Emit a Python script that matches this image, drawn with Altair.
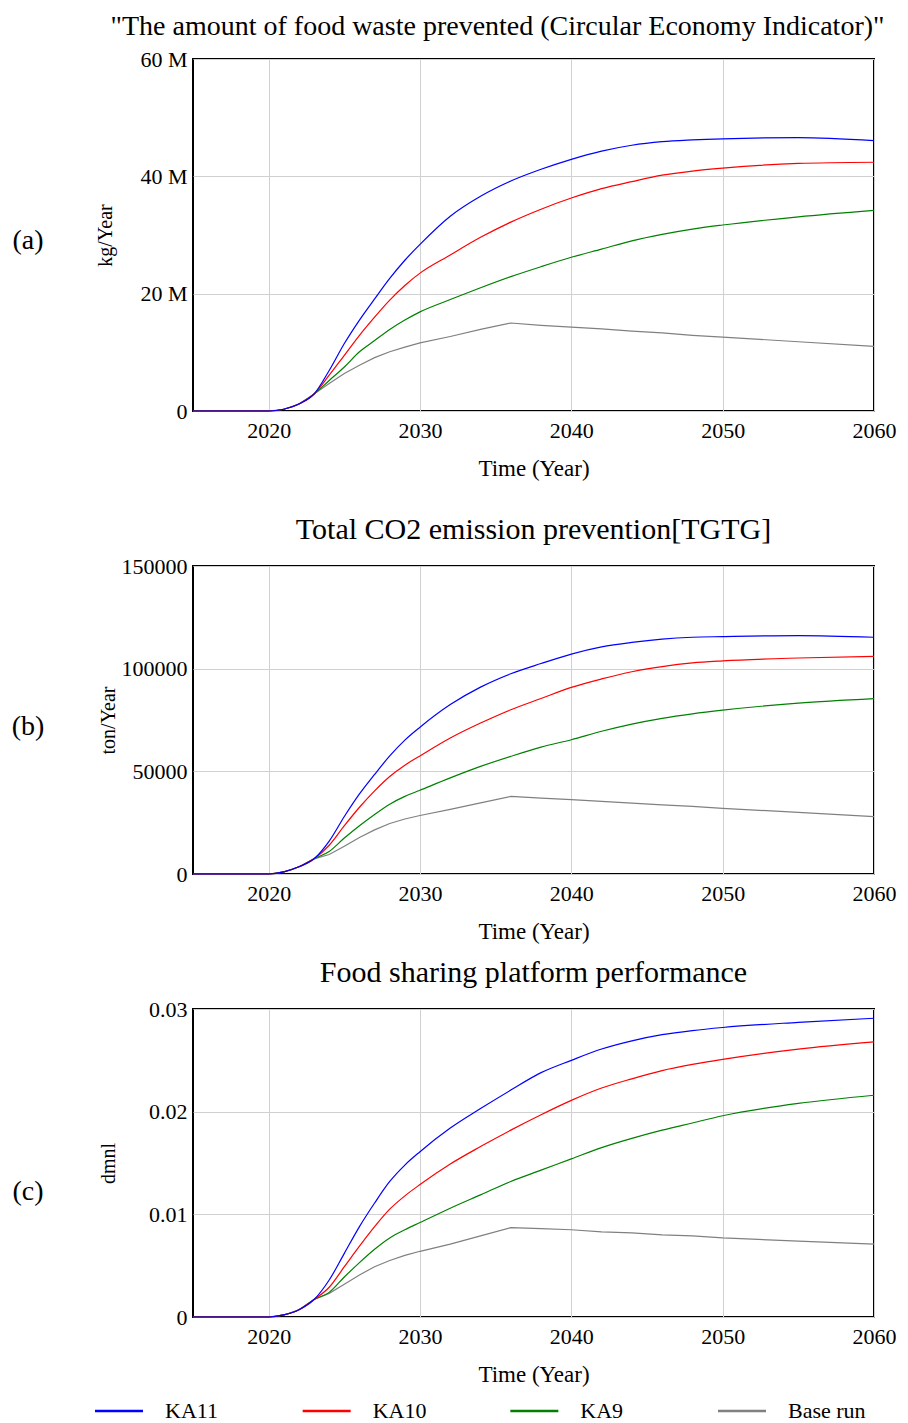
import altair as alt
import pandas as pd

years = [2015, 2016, 2017, 2018, 2019, 2020, 2021, 2022, 2023, 2024, 2025, 2026,
         2027, 2028, 2029, 2030, 2032, 2034, 2036, 2038, 2040, 2042, 2044, 2046,
         2048, 2050, 2055, 2060]
series = ["KA11", "KA10", "KA9", "Base run"]
colors = ["#0000ff", "#ff0000", "#008000", "#808080"]

# (a) food waste prevented, million kg/Year
a_ka11 = [0, 0, 0, 0, 0, 0, 0.3, 1.2, 2.9, 6.9, 11.5, 15.5, 19.1, 22.6, 25.7, 28.4,
          33.2, 36.6, 39.2, 41.2, 42.9, 44.3, 45.3, 45.9, 46.2, 46.4, 46.6, 46.1]
a_ka10 = [0, 0, 0, 0, 0, 0, 0.3, 1.2, 2.9, 6.1, 9.5, 12.9, 16.0, 18.9, 21.4, 23.5,
          26.6, 29.6, 32.2, 34.4, 36.3, 37.9, 39.1, 40.2, 40.9, 41.4, 42.2, 42.4]
a_ka9 = [0, 0, 0, 0, 0, 0, 0.3, 1.2, 2.9, 5.2, 7.5, 10.1, 12.0, 13.9, 15.5, 16.9,
         19.0, 21.0, 22.9, 24.6, 26.2, 27.6, 29.0, 30.1, 31.0, 31.7, 33.1, 34.2]
a_base = [0, 0, 0, 0, 0, 0, 0.3, 1.2, 2.9, 4.7, 6.4, 7.8, 9.1, 10.1, 10.9, 11.6,
          12.7, 13.9, 15.0, 14.6, 14.3, 14.0, 13.6, 13.3, 12.9, 12.6, 11.8, 11.0]

# (b) total CO2 emission prevention, ton/Year
b_ka11 = [0, 0, 0, 0, 0, 0, 1000, 3500, 7400, 16000, 28000, 39000, 48500, 57500,
          65200, 71500, 82500, 91000, 97500, 102500, 107100, 110600, 112800, 114400,
          115300, 115600, 116100, 115300]
b_ka10 = [0, 0, 0, 0, 0, 0, 1000, 3500, 7400, 14000, 23500, 32500, 40500, 47500,
          53000, 57500, 66200, 73500, 80000, 85500, 90900, 95000, 98500, 101000,
          102800, 103800, 105200, 106000]
b_ka9 = [0, 0, 0, 0, 0, 0, 1000, 3500, 7400, 11000, 17500, 23500, 29000, 34000,
         37800, 40800, 46800, 52400, 57300, 61800, 65400, 69500, 73000, 75800,
         78000, 79800, 83200, 85400]
b_base = [0, 0, 0, 0, 0, 0, 1000, 3500, 7400, 9500, 13500, 17800, 21500, 24600,
          26800, 28500, 31500, 34600, 37800, 37000, 36200, 35400, 34500, 33700,
          32900, 32000, 30000, 27900]

# (c) food sharing platform performance, dmnl
c_ka11 = [0, 0, 0, 0, 0, 0, 0.0002, 0.0007, 0.0017, 0.0036, 0.0062, 0.0088, 0.0111,
          0.0132, 0.0148, 0.0161, 0.0184, 0.0203, 0.0221, 0.0238, 0.0250, 0.0261,
          0.0269, 0.0275, 0.0279, 0.0282, 0.0287, 0.0291]
c_ka10 = [0, 0, 0, 0, 0, 0, 0.0002, 0.0007, 0.0017, 0.0029, 0.0049, 0.0069, 0.0088,
          0.0105, 0.0118, 0.0129, 0.0149, 0.0166, 0.0182, 0.0197, 0.0211, 0.0223,
          0.0232, 0.0240, 0.0246, 0.0251, 0.0261, 0.0268]
c_ka9 = [0, 0, 0, 0, 0, 0, 0.0002, 0.0007, 0.0017, 0.0024, 0.0039, 0.0053, 0.0066,
         0.0077, 0.0085, 0.0092, 0.0106, 0.0119, 0.0132, 0.0143, 0.0154, 0.0165,
         0.0174, 0.0182, 0.0189, 0.0196, 0.0208, 0.0216]
c_base = [0, 0, 0, 0, 0, 0, 0.0002, 0.0007, 0.0017, 0.0023, 0.0032, 0.0041, 0.0049,
          0.0055, 0.0060, 0.0064, 0.0071, 0.0079, 0.0087, 0.0086, 0.0085, 0.0083,
          0.0082, 0.0080, 0.0079, 0.0077, 0.0074, 0.0071]

x_ticks = [2020, 2030, 2040, 2050, 2060]
FONT = "Liberation Serif"
color_scale = alt.Scale(domain=series, range=colors)
W = 681


def long_df(vals):
    rows = []
    for name, v in zip(series, vals):
        for yr, val in zip(years, v):
            rows.append({"Year": yr, "Value": val, "Series": name})
    return pd.DataFrame(rows)


def panel(vals, title, title_size, title_dx, title_offset, ytitle, ydomain, yticks,
          label_expr, ytp, letter, letter_y, width, height):
    df = long_df(vals)
    x = alt.X("Year:Q",
              scale=alt.Scale(domain=[2015, 2060], nice=False, zero=False),
              axis=alt.Axis(values=x_ticks, format="d", title="Time (Year)",
                            titlePadding=16, labelPadding=9, labelFlush=False))
    y = alt.Y("Value:Q",
              scale=alt.Scale(domain=ydomain, nice=False),
              axis=alt.Axis(values=yticks, labelExpr=label_expr, title=ytitle,
                            titlePadding=ytp, labelPadding=6, labelFlush=False))
    color = alt.Color("Series:N", scale=color_scale, legend=None)
    layers = []
    for name in ["Base run", "KA9", "KA10", "KA11"]:
        layers.append(
            alt.Chart(df).transform_filter(alt.datum.Series == name)
            .mark_line(strokeWidth=1.2,
                       interpolate="linear" if name == "Base run" else "monotone")
            .encode(x=x, y=y, color=color)
        )
    lab = alt.Chart(pd.DataFrame({"t": [letter]})).mark_text(
        font=FONT, fontSize=28, color="black", align="center", baseline="middle"
    ).encode(text="t:N", x=alt.value(-165), y=alt.value(letter_y))
    layers.append(lab)
    return alt.layer(*layers).properties(
        width=width, height=height,
        title=alt.TitleParams(title, font=FONT, fontSize=title_size, fontWeight="normal",
                              color="black", anchor="middle", dx=title_dx,
                              offset=title_offset),
    )


pa = panel([a_ka11, a_ka10, a_ka9, a_base],
           '"The amount of food waste prevented (Circular Economy Indicator)"', 28, -36, 7,
           "kg/Year", [0, 60], [0, 20, 40, 60],
           "datum.value == 0 ? '0' : datum.value + ' M'", 24, "(a)", 182, W, 352)
pb = panel([b_ka11, b_ka10, b_ka9, b_base],
           "Total CO2 emission prevention[TGTG]", 30, 0, 10,
           "ton/Year", [0, 150000], [0, 50000, 100000, 150000],
           "format(datum.value, 'd')", 3, "(b)", 161, W, 308)
pc = panel([c_ka11, c_ka10, c_ka9, c_base],
           "Food sharing platform performance", 30, 0, 10,
           "dmnl", [0, 0.03], [0, 0.01, 0.02, 0.03],
           "datum.value == 0 ? '0' : format(datum.value, '.2f')", 30, "(c)", 183, W, 308)

# legend row
leg_df = pd.DataFrame({"Series": series})
leg_x = alt.X("Series:N", scale=alt.Scale(type="point", domain=series,
                                          range=[-74, 549], padding=0), axis=None)
leg_sym = alt.Chart(leg_df).mark_point(
    shape="stroke", size=2304, strokeWidth=2.5, filled=False, opacity=1
).encode(x=leg_x, y=alt.value(7), color=alt.Color("Series:N", scale=color_scale, legend=None))
leg_txt = alt.Chart(leg_df).mark_text(
    font=FONT, fontSize=22, color="black", align="left", baseline="middle", dx=46
).encode(x=leg_x, y=alt.value(7), text="Series:N")
legend = alt.layer(leg_sym, leg_txt).properties(
    width=W, height=20, view=alt.ViewBackground(strokeOpacity=0)
)

chart = alt.vconcat(pa, alt.vconcat(pb, pc, legend, spacing=13), spacing=33).properties(
    padding={"left": 2, "top": 4, "right": 0, "bottom": 0}
).configure_view(
    stroke="black", strokeWidth=2
).configure_axis(
    labelFont=FONT, labelFontSize=22, labelColor="black",
    titleFont=FONT, titleFontSize=20, titleFontWeight="normal", titleColor="black",
    grid=True, gridColor="#d0d0d0", gridWidth=1, domain=False, ticks=False, tickSize=0
).configure_axisX(titleFontSize=23)

chart.save("out.html", embed_options={"renderer": "svg", "actions": False})
